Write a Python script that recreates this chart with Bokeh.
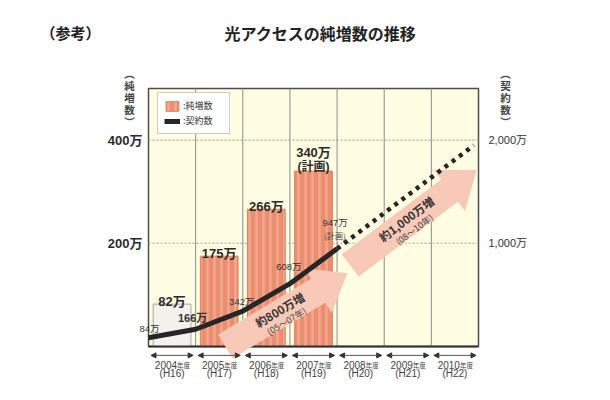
import math
from bokeh.plotting import figure
from bokeh.models import (Range1d, ColumnDataSource, Label, Legend, LegendItem,
                          Arrow, NormalHead)
from bokeh.core.properties import value
from bokeh.embed import file_html
from bokeh.resources import INLINE

# ---------------- data ----------------
fiscal_years = [2004, 2005, 2006, 2007, 2008, 2009, 2010]
heisei_labels = ["(H16)", "(H17)", "(H18)", "(H19)", "(H20)", "(H21)", "(H22)"]

net_add_years = [2004, 2005, 2006, 2007]
net_adds = [82, 175, 266, 340]                 # 純増数 (万)
net_add_notes = ["", "", "", "(計画)"]

contract_points = [2004, 2005, 2006, 2007, 2008]   # 年度境界
contracts = [84, 166, 342, 608, 947]                # 契約数 (万)
contract_notes = ["", "", "", "", "(計画)"]
plan_points = [2008, 2010.9]
plan_contracts = [947, 1950]

left_ticks = [200, 400]
left_tick_labels = ["200万", "400万"]
right_ticks = [1000, 2000]
right_tick_labels = ["1,000万", "2,000万"]
left_title = ["︵", "純", "増", "数", "︶"]
right_title = ["︵", "契", "約", "数", "︶"]

arrow_texts = ["約800万増", "約1,000万増"]
arrow_periods = ["(05～07年)", "(08～10年)"]

# ---------------- layout ----------------
W, H = 600, 392
SX = 47.143           # px per fiscal year
SY = 0.5156           # px per 万 (left scale)
X_AT_LEFT_PX = 148    # where FY2004 starts
Y_ZERO_PX = 345.9     # where 0 sits
X0 = 2004 - X_AT_LEFT_PX / SX
X1 = X0 + W / SX
Y1 = Y_ZERO_PX / SY
Y0 = Y1 - H / SY
PANEL_TOP = 500
RATIO = 5             # right scale = 5 x left scale
XL, XR = fiscal_years[0], fiscal_years[-1] + 1

def px_x(px):
    return X0 + px / SX

def px_y(py):
    return Y1 - py / SY

JP_S = "Noto Sans CJK JP"
NUM_S = "Liberation Sans, Noto Sans CJK JP"
JP = value(JP_S)
NUM = value(NUM_S)
INK = "#2b2b2b"

p = figure(width=W, height=H, x_range=Range1d(X0, X1), y_range=Range1d(Y0, Y1),
           output_backend="svg", toolbar_location=None, x_axis_location=None,
           y_axis_location=None, min_border=0, background_fill_color="white",
           border_fill_color="white", outline_line_color=None)
p.extra_y_ranges = {"right": Range1d(Y0 * RATIO, Y1 * RATIO)}
p.grid.visible = False

# panel
p.quad(left=XL, right=XR, bottom=0, top=PANEL_TOP,
       fill_color="#FFFDE2", line_color="#4d4d4d", line_width=1.5)
p.segment(x0=XL, x1=XR, y0=left_ticks, y1=left_ticks,
          line_color="#9a9a9a", line_dash="2 2", line_width=1)
p.segment(x0=fiscal_years[1:], x1=fiscal_years[1:], y0=0, y1=PANEL_TOP,
          line_color="#8c8c8c", line_width=1)

# tick labels (left: 純増数, right: 契約数)
p.text(x=[XL - 6 / SX] * len(left_ticks), y=left_ticks, text=left_tick_labels,
       text_font=NUM, text_font_style="bold", text_font_size="13px", text_color=INK,
       text_align="right", text_baseline="middle")
p.text(x=[XR + 10 / SX] * len(right_ticks), y=right_ticks, text=right_tick_labels,
       y_range_name="right", text_font=NUM, text_font_size="11px", text_color="#333333",
       text_align="left", text_baseline="middle")

# bars
bar_src = ColumnDataSource(dict(
    x=[y + 0.5 for y in net_add_years], top=net_adds,
    fill=["#F2F1EC"] + ["#EA8D70"] * (len(net_adds) - 1),
    line=["#A8A8A8"] + ["#E0805F"] * (len(net_adds) - 1),
    hatch=[" "] + ["|"] * (len(net_adds) - 1),
))
bars = p.vbar(x="x", top="top", bottom=0, width=0.8, source=bar_src,
              fill_color="fill", line_color="line", line_width=1,
              hatch_pattern="hatch", hatch_color="#F3A98D", hatch_scale=7, hatch_weight=2.5)

p.segment(x0=[XL], x1=[XR], y0=[0], y1=[0], line_color="#333333", line_width=2)

# big arrows
arrow_from = [(2005.63, 0), (2008.28, 157)]
arrow_to = [(2008.22, 142), (2010.96, 342)]
SHAFT, HEAD_W, HEAD_L = 28, 52, 34
axs, ays, tx, ty, tx2, ty2, ang = [], [], [], [], [], [], []
for (x0, y0), (x1, y1) in zip(arrow_from, arrow_to):
    ax_, ay_ = x0 * SX, y0 * SY
    bx_, by_ = x1 * SX, y1 * SY
    dx, dy = bx_ - ax_, by_ - ay_
    L = math.hypot(dx, dy)
    ux, uy = dx / L, dy / L
    nx, ny = -uy, ux
    hx, hy = bx_ - ux * HEAD_L, by_ - uy * HEAD_L
    s, h = SHAFT / 2, HEAD_W / 2
    pts = [(ax_ + nx * s, ay_ + ny * s), (hx + nx * s, hy + ny * s), (hx + nx * h, hy + ny * h),
           (bx_, by_), (hx - nx * h, hy - ny * h), (hx - nx * s, hy - ny * s),
           (ax_ - nx * s, ay_ - ny * s)]
    axs.append([q[0] / SX for q in pts])
    ays.append([q[1] / SY for q in pts])
    mx, my = ax_ + dx * 0.46, ay_ + dy * 0.46
    tx.append((mx + nx * 3.5) / SX); ty.append((my + ny * 3.5) / SY)
    tx2.append((mx - nx * 10) / SX); ty2.append((my - ny * 10) / SY)
    ang.append(math.atan2(dy, dx))
p.patches(xs=axs, ys=ays, fill_color="#F9C9B8", line_color=None)
p.text(x=tx, y=ty, text=arrow_texts, angle=ang, text_font=JP, text_font_style="bold",
       text_font_size="11.5px", text_color="#333333", text_align="center", text_baseline="middle")
p.text(x=tx2, y=ty2, text=arrow_periods, angle=ang, text_font=JP,
       text_font_size="9px", text_color="#444444", text_align="center", text_baseline="middle")

# bar labels
bar_lab_src = ColumnDataSource(dict(
    x=[y + 0.5 for y in net_add_years], y=net_adds,
    t=[f"{v}万" for v in net_adds], note=net_add_notes,
    off=[-19 if n else -3 for n in net_add_notes],
))
p.text(x="x", y="y", text="t", y_offset="off", source=bar_lab_src, text_font=NUM,
       text_font_style="bold", text_font_size="13px", text_color=INK,
       text_align="center", text_baseline="alphabetic")
p.text(x="x", y="y", text="note", y_offset=-4, source=bar_lab_src, text_font=NUM,
       text_font_style="bold", text_font_size="12px", text_color=INK,
       text_align="center", text_baseline="alphabetic")

# contract line
line = p.line(contract_points, contracts, y_range_name="right", line_width=5,
              line_color="#262626", line_join="round")
p.line(plan_points, plan_contracts, y_range_name="right", line_width=4.5,
       line_color="#262626", line_dash="4 5")

lab_xo = [1, -3, -1, -1, -2]
lab_yo = [9, 11, 10, 17, 26]
for i in range(len(contracts)):
    bold = i == 1
    p.add_layout(Label(x=contract_points[i], y=contracts[i], y_range_name="right",
                       text=f"{contracts[i]}万", x_offset=lab_xo[i], y_offset=lab_yo[i],
                       text_font=NUM_S, text_font_style="bold" if bold else "normal",
                       text_font_size="11px" if bold else "9.5px", text_color="#333333",
                       text_align="center", text_baseline="middle"))
    if contract_notes[i]:
        p.add_layout(Label(x=contract_points[i], y=contracts[i], y_range_name="right",
                           text=contract_notes[i], x_offset=lab_xo[i],
                           y_offset=lab_yo[i] - 13, text_font=JP_S,
                           text_font_size="8px", text_color="#444444",
                           text_align="center", text_baseline="middle"))

# fiscal year captions
yr_src = ColumnDataSource(dict(
    xs=[y + 2.5 / SX for y in fiscal_years], xe=[y + 1 - 2.5 / SX for y in fiscal_years],
    yy=[-9 / SY] * len(fiscal_years),
))
p.add_layout(Arrow(x_start="xs", x_end="xe", y_start="yy", y_end="yy", source=yr_src,
                   line_color="#555555", line_width=1,
                   start=NormalHead(size=5, fill_color="#333333", line_color="#333333"),
                   end=NormalHead(size=5, fill_color="#333333", line_color="#333333")))
cx = [y + 0.5 for y in fiscal_years]
p.text(x=cx, y=[0] * len(cx), text=[str(y) for y in fiscal_years], x_offset=5, y_offset=19,
       text_font=NUM, text_font_size="10px", text_color="#444444",
       text_align="right", text_baseline="alphabetic")
p.text(x=cx, y=[0] * len(cx), text=["年度"] * len(cx), x_offset=5, y_offset=19,
       text_font=JP, text_font_size="6.5px", text_color="#444444",
       text_align="left", text_baseline="alphabetic")
p.text(x=cx, y=[0] * len(cx), text=heisei_labels, y_offset=27,
       text_font=NUM, text_font_size="10px", text_color="#444444",
       text_align="center", text_baseline="middle")

# legend
legend = Legend(items=[LegendItem(label=":純増数", renderers=[bars], index=1),
                       LegendItem(label=":契約数", renderers=[line])],
                location=(157, H - 98 - 36), padding=6, spacing=2,
                glyph_width=16, glyph_height=12, label_height=12, label_width=40,
                label_standoff=3, label_text_font=JP_S, label_text_font_size="9px",
                label_text_color="#333333", border_line_color="#9a9a9a",
                background_fill_color="white", background_fill_alpha=1)
p.add_layout(legend)

# titles
p.text(x=[px_x(320)], y=[px_y(32)], text=["光アクセスの純増数の推移"],
       text_font=JP, text_font_style="bold", text_font_size="16px",
       text_color="#222222", text_align="center", text_baseline="middle")
p.text(x=[px_x(70)], y=[px_y(32)], text=["（参考）"],
       text_font=JP, text_font_style="bold", text_font_size="15px",
       text_color="#222222", text_align="center", text_baseline="middle")
V_TOP, V_STEP = 73, 12
for cxp, chars in [(129, left_title), (505, right_title)]:
    ys = [px_y(V_TOP + i * V_STEP) for i in range(len(chars))]
    p.text(x=[px_x(cxp)] * len(chars), y=ys, text=chars, text_font=JP,
           text_font_style="bold", text_font_size="10.5px",
           text_color="#444444", text_align="center", text_baseline="middle")

open("out.html", "w").write(file_html(p, INLINE))
